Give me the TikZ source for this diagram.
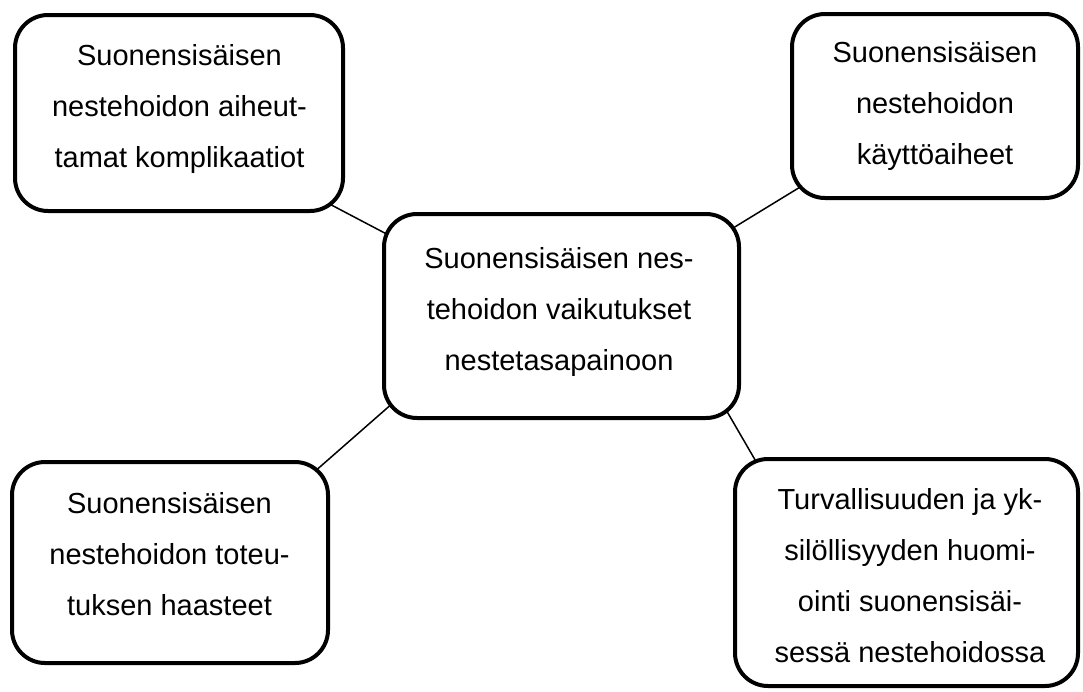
\documentclass[tikz,border=0pt]{standalone}
\usepackage{fontspec}
\setmainfont{Liberation Sans}
\usetikzlibrary{calc}
\pgfdeclarelayer{background}
\pgfsetlayers{background,main}
\begin{document}
\begin{tikzpicture}[x=1pt,y=-1pt,
  topicbox/.style={draw=black, fill=white, line width=4pt, rounded corners=33pt,
    inner sep=0pt, outer sep=0pt},
  topictext/.style={font=\fontsize{29}{51}\selectfont, align=center, anchor=base, inner sep=0pt},
  link/.style={draw=black, line width=1.5pt}]
\useasboundingbox (0,0) rectangle (1083,691);

% boxes
\node[topicbox, minimum width=328pt, minimum height=196pt] (tl) at (179,113) {};
\node[topicbox, minimum width=286pt, minimum height=184pt] (tr) at (935,106) {};
\node[topicbox, minimum width=355pt, minimum height=204pt] (c) at (561.5,316) {};
\node[topicbox, minimum width=316pt, minimum height=201pt] (bl) at (170,562.5) {};
\node[topicbox, minimum width=343pt, minimum height=227pt] (br) at (906.5,572.5) {};

% texts (anchored at the baseline of the last line)
\node[topictext] (tl-t) at (179.5,167) {Suonensisäisen\\nestehoidon aiheut-\\tamat komplikaatiot};
\node[topictext] (tr-t) at (935,164) {Suonensisäisen\\nestehoidon\\käyttöaiheet};
\node[topictext] (c-t) at (559,370) {Suonensisäisen nes-\\tehoidon vaikutukset\\nestetasapainoon};
\node[topictext] (bl-t) at (169.5,615) {Suonensisäisen\\nestehoidon toteu-\\tuksen haasteet};
\node[topictext] (br-t) at (910,662) {Turvallisuuden ja yk-\\silöllisyyden huomi-\\ointi suonensisäi-\\sessä nestehoidossa};

% connectors, drawn behind the filled boxes
\begin{pgfonlayer}{background}
\draw[link] ([shift={(-23,-12)}]tl.south east) -- ([shift={(14,26)}]c.north west);
\draw[link] ([shift={(18,-17)}]tr.south west) -- ([shift={(-19,22)}]c.north east);
\draw[link] ([shift={(-23,18)}]bl.north east) -- ([shift={(18,-23)}]c.south west);
\draw[link] ([shift={(-21,-22)}]c.south east) -- ([shift={(30,18)}]br.north west);
\end{pgfonlayer}
\end{tikzpicture}
\end{document}
